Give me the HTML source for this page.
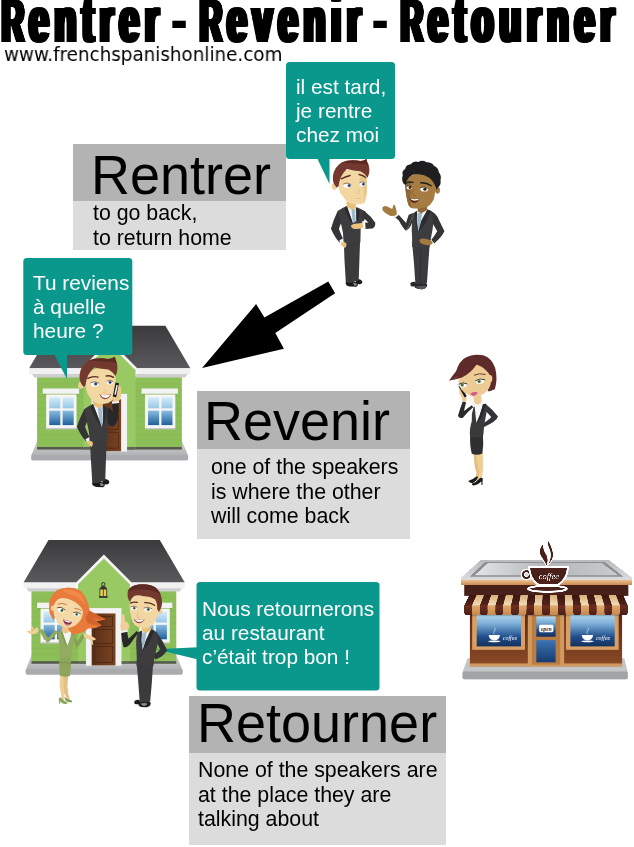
<!DOCTYPE html>
<html lang="fr">
<head>
<meta charset="utf-8">
<title>Rentrer - Revenir - Retourner</title>
<style>
html,body{margin:0;padding:0;background:#fff;}
body{width:634px;height:847px;position:relative;overflow:hidden;font-family:"Liberation Sans",sans-serif;color:#000;}
.abs{position:absolute;}
#title{left:0;top:0;width:634px;height:50px;overflow:visible;}
.tw{top:0;font-weight:bold;white-space:nowrap;}
.cap,.low{transform-origin:0 0;will-change:transform;text-shadow:1.2px 0 0 #000,-1.2px 0 0 #000,2.4px 0 0 #000,-2.4px 0 0 #000,3.6px 0 0 #000,-3.6px 0 0 #000,4.8px 0 0 #000,-4.8px 0 0 #000;}
.cap{left:-0.3px;top:-8.8px;font-size:60.3px;line-height:60.3px;transform:scale(0.505,1);}
.low{top:-12.4px;font-size:64.5px;line-height:64.5px;transform:scale(0.55,1);letter-spacing:10.6px;}
.hy{top:-10.9px;font-weight:bold;font-size:60.6px;line-height:60.6px;will-change:transform;transform:scaleX(0.88);transform-origin:50% 50%;}
#url{left:3.5px;top:44px;font-family:"DejaVu Sans","Liberation Sans",sans-serif;font-size:19.4px;line-height:22px;white-space:nowrap;transform-origin:0 0;transform:scaleX(0.945);will-change:transform;}
.hd{background:#b3b3b3;}
.bd{background:#dcdcdc;}
.big{font-size:54px;line-height:54px;white-space:nowrap;transform:scaleY(1.04);transform-origin:0 45.7px;will-change:transform;}
.txt{font-size:21.33px;line-height:24.5px;white-space:nowrap;will-change:transform;}
.bub{background:#0a968a;border-radius:4px;}
.btx{color:#fff;font-size:20.8px;line-height:23.95px;white-space:nowrap;will-change:transform;}
#art{left:0;top:0;width:634px;height:847px;will-change:transform;}
</style>
</head>
<body>
<svg id="art" class="abs" width="634" height="847" viewBox="0 0 634 847">
<!-- ART-START -->
<defs>
<linearGradient id="roofG" x1="0" y1="0" x2="0" y2="1"><stop offset="0" stop-color="#3b3b3d"/><stop offset="1" stop-color="#5a5a5c"/></linearGradient>
<linearGradient id="paneG" x1="0" y1="0" x2="0" y2="1"><stop offset="0" stop-color="#d6ecf8"/><stop offset="0.45" stop-color="#8fc3e4"/><stop offset="1" stop-color="#1f5f9b"/></linearGradient>
<linearGradient id="baseG" x1="0" y1="0" x2="0" y2="1"><stop offset="0" stop-color="#cfd1d3"/><stop offset="1" stop-color="#a6a8ab"/></linearGradient>
<linearGradient id="doorG" x1="0" y1="0" x2="1" y2="0"><stop offset="0" stop-color="#5a2e16"/><stop offset="1" stop-color="#7a4424"/></linearGradient>
<g id="house">
  <!-- base -->
  <path d="M58 440 L568 440 L590 492 L590 504 Q590 509 585 509 L43 509 Q38 509 38 504 L38 492 Z" fill="url(#baseG)"/>
  <rect x="38" y="490" width="552" height="19" rx="4" fill="#a9abae"/>
  <!-- walls -->
  <rect x="58" y="212" width="510" height="258" fill="#8dbf58"/>
  <rect x="58" y="462" width="510" height="9" fill="#565a50"/>
  <g stroke="#84b450" stroke-width="2">
    <path d="M58 240H568M58 262H568M58 284H568M58 306H568M58 328H568M58 350H568M58 372H568M58 394H568M58 416H568M58 438H568"/>
  </g>
  <!-- centre gable section -->
  <path d="M222 185 L313 95 L405 185 L405 470 L222 470 Z" fill="#99c963"/>
  <rect x="222" y="462" width="183" height="9" fill="#5e6456"/>
  <!-- roof -->
  <path d="M118 35 L510 35 L598 185 L30 185 Z" fill="url(#roofG)"/>
  <!-- gable front over roof -->
  <path d="M313 88 L412 188 L214 188 Z" fill="#99c963"/>
  <path d="M313 86 L416 190 L403 190 L313 100 L223 190 L210 190 Z" fill="#f4f4f4"/>
  <!-- fascia -->
  <path d="M30 185 L214 185 L214 205 L30 205 Z" fill="#f1f1f1"/>
  <path d="M412 185 L598 185 L598 205 L412 205 Z" fill="#f1f1f1"/>
  <path d="M40 205 L222 205 L222 217 L48 217 Z" fill="#cfcfcf"/>
  <path d="M405 205 L588 205 L580 217 L405 217 Z" fill="#cfcfcf"/>
  <!-- lantern -->
  <circle cx="311" cy="191" r="6" fill="none" stroke="#33332c" stroke-width="3.5"/>
  <path d="M304 198 L318 198 L325 209 L297 209 Z" fill="#33332c"/>
  <rect x="299" y="208" width="24" height="26" fill="#e9d050" stroke="#3a3a30" stroke-width="3"/>
  <rect x="309.5" y="208" width="3" height="26" fill="#3a3a30"/>
  <rect x="296" y="233" width="30" height="6" fill="#33332c"/>
  <!-- door -->
  <rect x="250" y="275" width="125" height="203" fill="#f3f3f3"/>
  <rect x="270" y="294" width="84" height="183" fill="url(#doorG)"/>
  <g fill="none" stroke="#4a2411" stroke-width="2.5">
    <rect x="280" y="304" width="64" height="36"/><rect x="280" y="350" width="64" height="50"/><rect x="280" y="410" width="64" height="56"/>
  </g>
  <!-- windows -->
  <g id="win">
    <rect x="78" y="256" width="128" height="19" fill="#f3f3f3"/>
    <rect x="80" y="275" width="124" height="5" fill="#7fae4a"/>
    <rect x="90" y="277" width="107" height="121" fill="#f6f6f6"/>
    <rect x="90" y="395" width="107" height="5" fill="#c8c8c8"/>
    <rect x="101" y="287" width="39" height="98" fill="url(#paneG)"/>
    <rect x="148" y="287" width="39" height="98" fill="url(#paneG)"/>
    <rect x="98" y="326" width="92" height="8" fill="#f6f6f6"/>
  </g>
  <use href="#win" x="348" y="0"/>
</g>
</defs>
<path fill="#000" d="M202.1 367.9 L256.1 304.1 L264.4 317.4 L328.3 281.4 L335.1 293.2 L275.3 333.1 L283.9 348.7 Z"/>
<use href="#house" transform="translate(20.6,315.8) scale(0.28391)"/>
<use href="#house" transform="translate(15,530) scale(0.28391)"/>
<g fill="#0b988c">
<rect x="286" y="62" width="109" height="97" rx="3.5"/>
<path d="M317 158 L329.5 158 L329.5 184 Z"/>
<rect x="23.3" y="258" width="109" height="97" rx="3.5"/>
<path d="M54 354 L67 354 L67 379 Z"/>
<rect x="196.5" y="582" width="183" height="108.5" rx="3.5"/>
<path d="M198 647.3 L198 659.6 L156 649.3 Z"/>
</g>
<g id="man3" transform="translate(70,350) scale(0.1712)">
  <!-- shoes -->
  <path d="M190 756 Q214 748 228 764 Q234 780 216 786 L190 784 Z" fill="#1b1b1d"/>
  <path d="M130 772 Q124 794 154 800 L194 801 Q208 794 200 780 Q184 766 164 768 Z" fill="#1b1b1d"/>
  <path d="M174 776 Q192 778 200 788 Q194 796 180 794 Z" fill="#8a8a8c"/>
  <!-- trousers -->
  <path d="M116 524 L214 530 L210 640 L206 760 Q197 770 186 766 L170 774 Q148 782 130 772 L122 640 Z" fill="#3b3a3c"/>
  <!-- left arm -->
  <path d="M84 344 Q58 394 40 448 Q64 502 92 532 L116 514 Q96 472 88 448 Q102 412 112 382 Z" fill="#343335"/>
  <path d="M90 522 L114 508 L124 524 L100 538 Z" fill="#f4f4f4"/>
  <path d="M100 534 Q122 524 134 540 Q136 556 126 566 Q112 560 102 548 Z" fill="#e9c27c"/>
  <!-- torso -->
  <path d="M82 346 Q104 330 134 316 L172 338 L196 324 Q226 334 244 350 Q250 380 236 420 L218 450 L216 536 L114 530 Q114 476 102 436 Q92 396 82 346 Z" fill="#3d3c3e"/>
  <path d="M136 318 L190 326 L194 410 L186 452 L170 410 Z" fill="#eef3f7"/>
  <path d="M162 336 L184 334 L192 410 L186 450 L172 410 Z" fill="#9fb9cc"/>
  <path d="M134 316 L172 412 L188 460 L152 404 L120 338 Z" fill="#2c2b2d"/>
  <path d="M196 324 L194 410 L188 458 L208 396 L214 344 Z" fill="#2c2b2d"/>
  <!-- right arm raised w/ phone -->
  <path d="M222 336 Q244 346 250 372 L246 308 L284 304 L282 390 Q276 436 252 446 Q232 448 222 430 Q212 380 222 336 Z" fill="#28272a"/>
  <path d="M244 300 L286 296 L286 310 L246 314 Z" fill="#f4f4f4"/>
  <!-- neck -->
  <path d="M130 296 L192 306 L192 330 L166 340 L138 322 Z" fill="#e6bf78"/>
  <!-- ear -->
  <ellipse cx="64" cy="206" rx="16" ry="21" fill="#efcf98"/>
  <!-- face -->
  <path d="M92 140 Q130 100 210 108 Q262 118 266 160 L266 230 Q262 276 244 296 Q210 322 160 312 Q120 294 102 254 Q84 210 92 140 Z" fill="#f3d7a2"/>
  <path d="M198 226 Q214 236 206 250 Q198 254 192 248" fill="none" stroke="#d9b378" stroke-width="4"/>
  <!-- hand + phone -->
  <path d="M262 196 Q288 192 298 220 Q304 260 292 292 Q276 304 250 300 Q244 280 252 262 Q262 230 262 196 Z" fill="#eac98f"/>
  <path d="M266 190 L286 194 L270 276 L250 272 Z" fill="#1a1a1c"/>
  <path d="M271 204 L280 206 L268 262 L259 260 Z" fill="#f2f2f2"/>
  <!-- mouth -->
  <path d="M172 258 Q204 270 240 256 Q232 286 204 288 Q182 284 172 258 Z" fill="#8a4a4a"/>
  <path d="M176 260 Q204 270 236 258 Q228 278 206 280 Q186 276 176 260 Z" fill="#fff"/>
  <!-- eyes -->
  <ellipse cx="144" cy="198" rx="24" ry="15" fill="#fff"/>
  <circle cx="150" cy="198" r="10" fill="#4f639a"/>
  <circle cx="151" cy="198" r="4.5" fill="#1d2238"/>
  <ellipse cx="232" cy="188" rx="18" ry="13" fill="#fff"/>
  <circle cx="234" cy="189" r="9" fill="#4f639a"/>
  <circle cx="235" cy="189" r="4" fill="#1d2238"/>
  <path d="M120 192 Q142 176 170 194" fill="none" stroke="#5b2d24" stroke-width="4"/>
  <path d="M214 182 Q232 170 252 184" fill="none" stroke="#5b2d24" stroke-width="4"/>
  <path d="M104 166 Q132 150 164 158" fill="none" stroke="#5d2e26" stroke-width="8" stroke-linecap="round"/>
  <path d="M212 152 Q234 146 254 160" fill="none" stroke="#5d2e26" stroke-width="8" stroke-linecap="round"/>
  <!-- hair -->
  <path d="M78 214 Q52 186 56 144 Q62 92 108 62 Q158 40 222 52 Q246 52 262 40 Q266 60 274 78 Q284 112 266 152 Q252 128 224 114 Q186 112 142 102 Q120 122 106 148 Q92 178 90 208 Z" fill="#73392f"/>
  <path d="M108 62 Q158 40 222 52 Q246 52 262 40 Q266 60 274 78 Q240 66 200 68 Q150 66 108 62 Z" fill="#5c2a23"/>
</g>
<g id="woman2" transform="translate(22,580) scale(0.15349)">
  <!-- legs -->
  <path d="M250 610 Q240 680 252 730 L258 780 L274 780 Q276 720 282 680 L290 610 Z" fill="#efcf98"/>
  <path d="M270 610 Q268 690 276 740 L300 790 L312 782 Q296 730 296 690 L302 610 Z" fill="#e6c080"/>
  <!-- shoes -->
  <path d="M240 770 Q250 760 262 774 Q286 798 300 800 Q292 812 270 806 Q256 800 250 790 L248 806 L242 806 Z" fill="#8ea65c"/>
  <path d="M276 760 Q290 776 318 784 Q332 788 326 796 Q306 800 290 790 L280 780 Z" fill="#7f9650"/>
  <!-- skirt -->
  <path d="M244 500 L318 500 Q324 560 312 626 Q280 636 246 622 Q238 560 244 500 Z" fill="#8da65b"/>
  <path d="M246 540 Q280 530 318 544" stroke="#748c46" stroke-width="5" fill="none"/>
  <!-- left arm -->
  <path d="M236 340 Q200 380 166 412 Q140 380 112 330 L132 318 Q152 350 170 374 Q196 350 220 326 Z" fill="#93ab61"/>
  <path d="M30 336 Q50 326 72 332 Q84 312 100 308 Q112 316 108 334 Q100 352 76 354 Q48 356 30 336 Z" fill="#f0cf9a"/>
  <path d="M60 300 Q70 310 74 330" stroke="#f0cf9a" stroke-width="8" fill="none" stroke-linecap="round"/>
  <!-- right arm -->
  <path d="M318 352 Q340 400 356 446 Q384 410 408 366 L392 352 Q372 384 358 404 Q350 380 340 350 Z" fill="#86a056"/>
  <path d="M400 352 Q420 346 440 362 Q470 372 482 384 Q476 396 460 392 L464 420 L452 422 L446 392 Q420 384 404 370 Z" fill="#efcf98"/>
  <!-- torso -->
  <path d="M236 338 Q250 328 268 326 L300 420 L322 350 Q336 356 342 370 Q330 440 322 510 L242 510 Q250 440 240 400 Q232 370 236 338 Z" fill="#93ab61"/>
  <path d="M256 340 L300 330 L306 380 L296 430 L272 390 Z" fill="#f7f7f5"/>
  <path d="M250 336 L262 332 L298 436 L282 420 Z" fill="#7d9550"/>
  <!-- neck -->
  <path d="M262 296 L310 290 L312 336 L284 350 L258 336 Z" fill="#e9c58a"/>
  <!-- hair back -->
  <path d="M178 180 Q166 120 226 66 Q310 30 384 72 Q424 112 442 200 Q490 230 546 256 Q500 270 470 268 Q500 290 520 296 Q470 320 430 316 Q400 350 336 354 Q312 344 300 312 L204 210 Z" fill="#e87a3c"/>
  <path d="M440 200 Q490 230 546 256 Q500 262 460 250 Q500 280 520 296 Q470 300 430 280 Q400 250 440 200 Z" fill="#d4642c"/>
  <path d="M176 176 Q176 226 206 262 L214 244 Q198 204 202 164 Z" fill="#e87a3c"/>
  <!-- ear -->
  <ellipse cx="198" cy="184" rx="11" ry="17" fill="#efcf98"/>
  <!-- face -->
  <path d="M200 160 Q230 116 280 108 Q340 130 392 176 Q404 214 386 254 Q358 298 316 310 Q270 314 240 288 Q206 246 200 160 Z" fill="#f4d8a6"/>
  <!-- fringe -->
  <path d="M196 160 Q200 100 260 70 Q330 50 390 100 Q420 150 400 200 Q370 150 320 130 Q280 110 240 120 Q214 136 206 170 Z" fill="#e87a3c"/>
  <path d="M260 70 Q330 50 390 100 Q410 130 408 160 Q370 110 320 96 Q290 88 260 70 Z" fill="#f08a48"/>
  <!-- eyes -->
  <ellipse cx="256" cy="196" rx="22" ry="15" fill="#fff" transform="rotate(20 256 196)"/>
  <circle cx="260" cy="198" r="10" fill="#5f876a"/>
  <circle cx="261" cy="198" r="4.5" fill="#1c2a16"/>
  <ellipse cx="356" cy="222" rx="20" ry="13" fill="#fff" transform="rotate(15 356 222)"/>
  <circle cx="356" cy="224" r="9" fill="#5f876a"/>
  <circle cx="357" cy="224" r="4" fill="#1c2a16"/>
  <path d="M230 180 Q256 170 282 196" fill="none" stroke="#3a2418" stroke-width="5"/>
  <path d="M334 212 Q358 202 382 220" fill="none" stroke="#3a2418" stroke-width="5"/>
  <path d="M236 156 Q262 146 290 160" fill="none" stroke="#c4602c" stroke-width="5" stroke-linecap="round"/>
  <path d="M344 186 Q366 184 386 198" fill="none" stroke="#c4602c" stroke-width="5" stroke-linecap="round"/>
  <!-- mouth -->
  <path d="M268 258 Q296 262 326 274 Q316 298 292 296 Q272 286 268 258 Z" fill="#8a2a4a"/>
  <path d="M272 260 Q296 264 322 274 Q310 280 294 276 Q280 272 272 260 Z" fill="#fff"/>
  <path d="M280 284 Q296 290 310 288 Q302 298 290 296 Z" fill="#e07a9a"/>
</g>
<g id="man4" transform="translate(110,575) scale(0.15939)">
  <!-- shoes -->
  <path d="M152 796 Q158 780 184 784 L196 806 Q174 816 154 808 Z" fill="#1b1b1d"/>
  <path d="M180 806 Q186 788 220 790 Q250 788 256 804 Q254 824 228 830 Q194 832 180 820 Z" fill="#1b1b1d"/>
  <path d="M190 808 Q210 800 236 806 Q230 822 208 822 Z" fill="#8a8a8c"/>
  <!-- trousers -->
  <path d="M168 562 L270 562 L262 680 L252 794 Q220 802 186 794 L178 680 Z" fill="#3b3a3c"/>
  <!-- right arm behind back -->
  <path d="M296 366 Q330 410 358 470 Q340 510 284 530 L270 500 Q300 486 316 468 Q296 430 280 400 Z" fill="#343335"/>
  <!-- torso -->
  <path d="M172 364 Q186 352 204 348 L214 372 L260 340 Q284 350 300 366 Q306 420 290 470 Q276 520 272 574 L166 572 Q170 520 166 470 Q160 410 172 364 Z" fill="#3d3c3e"/>
  <path d="M200 350 L258 340 L226 410 L204 470 L196 410 Z" fill="#eef3f7"/>
  <path d="M204 360 L228 358 L220 420 L204 466 L198 420 Z" fill="#9fb9cc"/>
  <path d="M258 340 L278 350 L250 420 L204 478 L226 410 Z" fill="#2c2b2d"/>
  <path d="M200 350 L186 358 L192 430 L204 478 L196 410 Z" fill="#2c2b2d"/>
  <!-- left arm raised -->
  <path d="M178 362 Q150 400 120 440 Q100 460 84 450 Q72 410 70 360 L108 352 Q110 380 116 400 Q140 380 168 352 Z" fill="#28272a"/>
  <path d="M66 350 L110 342 L112 356 L70 364 Z" fill="#f4f4f4"/>
  <path d="M70 348 Q60 320 68 296 L76 250 Q84 240 90 252 L94 290 Q116 296 120 320 Q118 340 108 346 Z" fill="#f0cf9a"/>
  <!-- neck -->
  <path d="M196 318 L254 322 L256 346 L226 366 L200 350 Z" fill="#e6bf78"/>
  <!-- ear -->
  <ellipse cx="312" cy="226" rx="15" ry="20" fill="#efcf98"/>
  <!-- face -->
  <path d="M124 150 Q160 118 230 122 Q290 136 300 180 Q304 240 288 286 Q262 330 214 336 Q166 332 144 300 Q118 240 124 150 Z" fill="#f3d7a2"/>
  <path d="M178 232 Q166 256 174 268 Q184 272 192 266" fill="none" stroke="#d9b378" stroke-width="4"/>
  <!-- mouth -->
  <path d="M148 274 Q182 288 218 276 Q208 302 180 302 Q158 298 148 274 Z" fill="#8a4a4a"/>
  <path d="M152 276 Q182 288 214 278 Q206 294 181 295 Q162 292 152 276 Z" fill="#fff"/>
  <!-- eyes -->
  <ellipse cx="150" cy="207" rx="19" ry="14" fill="#fff"/>
  <circle cx="152" cy="208" r="9" fill="#5f876a"/>
  <circle cx="153" cy="208" r="4" fill="#1c2a16"/>
  <ellipse cx="238" cy="215" rx="24" ry="15" fill="#fff"/>
  <circle cx="240" cy="216" r="10" fill="#5f876a"/>
  <circle cx="241" cy="216" r="4.5" fill="#1c2a16"/>
  <path d="M130 200 Q150 188 170 202" fill="none" stroke="#5b2d24" stroke-width="4"/>
  <path d="M212 208 Q238 194 264 212" fill="none" stroke="#5b2d24" stroke-width="4"/>
  <path d="M128 176 Q150 166 172 172" fill="none" stroke="#5d2e26" stroke-width="8" stroke-linecap="round"/>
  <path d="M218 174 Q252 170 280 190" fill="none" stroke="#5d2e26" stroke-width="8" stroke-linecap="round"/>
  <!-- hair -->
  <path d="M126 170 Q104 140 112 100 Q130 66 180 60 Q240 52 286 78 Q322 110 326 160 Q330 200 306 232 L296 214 Q298 176 282 152 Q250 132 210 134 Q176 122 150 132 Q134 146 126 170 Z" fill="#73392f"/>
  <path d="M112 100 Q130 66 180 60 Q240 52 286 78 Q310 98 320 126 Q280 96 230 92 Q170 88 112 100 Z" fill="#5c2a23"/>
</g>
<g id="man1" transform="translate(325,155) scale(0.16529)">
  <!-- shoes -->
  <path d="M186 752 Q210 745 224 762 Q230 778 212 782 L186 780 Z" fill="#1b1b1d"/>
  <path d="M126 768 Q120 790 150 796 L190 797 Q204 790 196 776 Q180 762 160 764 Z" fill="#1b1b1d"/>
  <path d="M170 772 Q188 774 196 784 Q190 792 176 790 Z" fill="#8a8a8c"/>
  <!-- trousers -->
  <path d="M114 520 L212 526 L208 640 L204 756 Q195 766 184 762 L168 770 Q146 778 126 768 L118 640 Z" fill="#3b3a3c"/>
  <!-- left arm (behind torso) -->
  <path d="M78 336 Q52 390 36 446 Q60 500 88 530 L112 512 Q92 470 84 446 Q98 410 108 380 Z" fill="#343335"/>
  <path d="M86 518 L110 504 L120 520 L96 534 Z" fill="#f4f4f4"/>
  <path d="M96 530 Q118 520 130 536 Q132 552 122 562 Q108 556 98 544 Z" fill="#e9c27c"/>
  <!-- torso jacket -->
  <path d="M78 338 Q100 322 130 308 L168 330 L192 316 Q222 326 244 342 Q252 360 236 400 L216 440 L214 530 L112 524 Q112 470 100 430 Q90 390 78 338 Z" fill="#3d3c3e"/>
  <!-- shirt + tie -->
  <path d="M134 310 L186 318 L190 404 L168 412 Z" fill="#eef3f7"/>
  <path d="M160 328 L180 326 L186 402 L168 408 Z" fill="#9fb9cc"/>
  <path d="M130 308 L168 412 L150 400 L118 330 Z" fill="#2c2b2d"/>
  <path d="M192 316 L190 404 L168 412 L204 390 L210 336 Z" fill="#2c2b2d"/>
  <!-- right arm across -->
  <path d="M236 338 Q280 372 304 410 Q306 436 288 444 L240 448 L236 410 L262 408 Q244 388 222 372 Z" fill="#343335"/>
  <path d="M224 402 L242 398 L246 446 L228 448 Z" fill="#f6f6f6"/>
  <path d="M156 428 Q170 412 200 414 L228 410 L230 440 Q200 450 172 446 Q160 442 156 428 Z" fill="#e9c27c"/>
  <!-- neck -->
  <path d="M128 280 L186 292 L186 322 L160 330 L134 314 Z" fill="#e6bf78"/>
  <!-- ear -->
  <ellipse cx="56" cy="190" rx="16" ry="20" fill="#efcf98"/>
  <!-- face -->
  <path d="M82 120 Q120 80 200 90 Q250 100 254 140 L254 230 Q250 272 238 292 Q200 304 150 294 Q118 270 92 230 Q76 190 82 120 Z" fill="#f3d7a2"/>
  <path d="M206 150 Q222 160 232 200 Q240 230 232 282 Q246 262 250 220 L252 140 Q250 120 240 110 Q222 120 206 150 Z" fill="#e6c58c"/>
  <path d="M196 200 Q214 214 204 232 Q196 236 190 230" fill="none" stroke="#d9b378" stroke-width="4"/>
  <path d="M182 262 Q200 258 214 264" fill="none" stroke="#dcb680" stroke-width="4" stroke-linecap="round"/>
  <!-- eyes -->
  <ellipse cx="134" cy="184" rx="23" ry="15" fill="#fff"/>
  <circle cx="146" cy="185" r="10" fill="#5a6c98"/>
  <circle cx="147" cy="185" r="4.5" fill="#1d2238"/>
  <ellipse cx="226" cy="176" rx="18" ry="14" fill="#fff"/>
  <circle cx="232" cy="177" r="9" fill="#5a6c98"/>
  <circle cx="233" cy="177" r="4" fill="#1d2238"/>
  <path d="M110 176 Q132 162 158 178" fill="none" stroke="#5b2d24" stroke-width="4"/>
  <path d="M208 168 Q226 156 244 170" fill="none" stroke="#5b2d24" stroke-width="4"/>
  <!-- brows -->
  <path d="M98 144 Q122 132 152 124" fill="none" stroke="#5d2e26" stroke-width="8" stroke-linecap="round"/>
  <path d="M206 118 Q228 122 246 136" fill="none" stroke="#5d2e26" stroke-width="8" stroke-linecap="round"/>
  <!-- hair -->
  <path d="M70 196 Q44 170 48 128 Q54 76 100 46 Q150 24 214 36 Q236 36 250 24 Q254 44 264 62 Q276 96 258 138 Q244 112 214 98 Q176 96 132 84 Q112 104 98 130 Q84 160 82 190 Z" fill="#73392f"/>
  <path d="M100 46 Q150 24 214 36 Q236 36 250 24 Q254 44 264 62 Q230 50 190 52 Q140 50 100 46 Z" fill="#5c2a23"/>
</g>
<g id="man2" transform="translate(378,155) scale(0.16529)">
  <!-- shoes -->
  <path d="M196 778 Q200 764 226 768 L238 790 Q216 800 198 792 Z" fill="#2a2a2c"/>
  <path d="M222 786 Q228 770 262 772 Q292 770 298 786 Q296 806 270 812 Q236 814 222 802 Z" fill="#2a2a2c"/>
  <path d="M228 796 Q258 790 294 792 Q290 808 268 812 Q240 812 228 796 Z" fill="#55565a"/>
  <!-- trousers -->
  <path d="M208 548 L312 548 L304 660 L296 776 Q262 784 226 776 L218 660 Z" fill="#3b3a3c"/>
  <path d="M258 570 L256 776" stroke="#2f2e30" stroke-width="4" fill="none"/>
  <!-- right arm (viewer right) behind torso -->
  <path d="M318 338 Q352 352 368 392 Q392 440 402 462 Q384 500 340 536 L322 514 Q346 486 358 462 Q340 430 322 400 Z" fill="#343335"/>
  <path d="M322 512 L340 534 L330 544 L314 524 Z" fill="#f4f4f4"/>
  <!-- torso -->
  <path d="M214 352 Q226 342 240 338 L246 360 L300 330 Q316 334 326 342 Q340 400 330 450 Q320 500 312 556 L206 556 Q208 500 204 450 Q202 400 214 352 Z" fill="#3d3c3e"/>
  <!-- shirt & tie -->
  <path d="M236 340 L300 330 L262 400 L244 462 L234 400 Z" fill="#eef3f7"/>
  <path d="M240 350 L268 348 L258 410 L244 458 L236 410 Z" fill="#9fb9cc"/>
  <path d="M300 330 L318 340 L290 410 L244 466 L262 400 Z" fill="#2c2b2d"/>
  <path d="M236 340 L222 348 L230 420 L244 466 L234 400 Z" fill="#2c2b2d"/>
  <!-- hand on hip -->
  <path d="M250 512 Q270 500 300 510 Q324 516 332 528 Q326 546 300 546 Q270 544 254 530 Z" fill="#a37a40"/>
  <!-- left arm (viewer left) raised -->
  <path d="M216 350 Q196 400 186 430 Q178 452 166 456 Q150 440 126 396 L98 372 L120 356 Q150 390 170 412 Q176 390 186 362 Z" fill="#343335"/>
  <path d="M168 458 Q190 452 206 410 L214 352 Q196 400 186 430 Q178 452 166 456 Z" fill="#343335"/>
  <path d="M96 368 L120 352 L128 362 L104 380 Z" fill="#f4f4f4"/>
  <path d="M26 318 Q36 302 56 312 L86 326 Q92 310 94 298 Q106 304 108 322 Q116 344 112 362 Q92 374 70 366 Q40 352 28 334 Z" fill="#a37a40"/>
  <!-- neck -->
  <path d="M240 312 L296 304 L298 332 L262 352 L240 340 Z" fill="#8d6836"/>
  <!-- ear -->
  <ellipse cx="360" cy="214" rx="15" ry="20" fill="#a37a40"/>
  <!-- face -->
  <path d="M164 150 Q200 110 280 116 Q340 130 346 180 Q348 240 336 270 Q318 306 290 316 Q240 328 200 320 Q184 310 178 280 Q162 210 164 150 Z" fill="#a67c42"/>
  <path d="M164 150 Q162 210 178 280 Q184 310 200 320 Q196 280 196 240 Q206 200 200 160 Q184 140 164 150 Z" fill="#8d6836"/>
  <path d="M214 200 Q204 230 212 244 Q222 250 232 244" fill="none" stroke="#8a5b22" stroke-width="4"/>
  <!-- mouth -->
  <path d="M192 262 Q220 270 250 262 Q244 290 216 290 Q198 286 192 262 Z" fill="#5a2414"/>
  <path d="M194 263 Q220 271 248 263 Q244 276 220 277 Q202 275 194 263 Z" fill="#fff"/>
  <!-- eyes -->
  <ellipse cx="190" cy="197" rx="17" ry="12" fill="#fff"/>
  <circle cx="194" cy="197" r="9" fill="#3a2312"/>
  <ellipse cx="280" cy="207" rx="24" ry="14" fill="#fff"/>
  <circle cx="284" cy="207" r="10" fill="#3a2312"/>
  <path d="M172 190 Q190 180 208 192" fill="none" stroke="#20160c" stroke-width="4"/>
  <path d="M256 198 Q280 186 306 204" fill="none" stroke="#20160c" stroke-width="4"/>
  <path d="M168 170 Q190 160 212 166" fill="none" stroke="#1b1b1d" stroke-width="8" stroke-linecap="round"/>
  <path d="M258 168 Q294 166 322 186" fill="none" stroke="#1b1b1d" stroke-width="8" stroke-linecap="round"/>
  <!-- hair -->
  <path d="M156 176 Q140 150 150 122 Q142 96 164 84 Q170 58 198 56 Q214 34 244 42 Q268 28 294 44 Q324 42 340 66 Q366 76 368 104 Q386 124 378 152 Q384 180 364 196 L352 210 Q344 176 330 158 Q310 132 280 122 Q240 112 210 120 Q188 130 176 152 Q168 168 168 182 Z" fill="#1e1e21"/>
</g>
<g id="woman1" transform="translate(430,345) scale(0.17709)">
  <!-- legs -->
  <path d="M246 610 Q248 680 262 720 L256 770 L272 772 Q282 730 286 690 L290 610 Z" fill="#e6c080"/>
  <path d="M262 610 Q268 680 280 720 L278 770 L292 772 Q298 720 300 690 L298 610 Z" fill="#efcf98"/>
  <!-- shoes -->
  <path d="M216 768 Q240 760 262 742 L272 744 Q262 770 240 780 Q222 780 216 768 Z" fill="#1b1b1d"/>
  <path d="M236 784 Q262 776 284 750 L298 752 L296 790 L290 790 L290 770 Q270 792 246 794 Q236 792 236 784 Z" fill="#1b1b1d"/>
  <!-- skirt -->
  <path d="M228 500 L298 496 Q304 560 296 612 Q266 626 236 614 Q222 560 228 500 Z" fill="#2f2e31"/>
  <!-- left arm w/ phone (viewer's left) -->
  <path d="M244 352 Q210 380 184 412 Q164 416 158 400 Q172 350 186 316 L204 324 Q196 350 192 372 Q214 356 236 340 Z" fill="#2a292c"/>
  <path d="M168 240 Q160 270 178 296 L186 322 L206 318 Q208 296 200 280 Q186 262 168 240 Z" fill="#ecca92"/>
  <path d="M160 232 L172 228 L208 290 L196 296 Z" fill="#1a1a1c"/>
  <!-- right arm on hip -->
  <path d="M316 334 Q350 360 384 404 Q378 430 300 466 L290 448 Q330 424 346 406 Q326 384 306 364 Z" fill="#343335"/>
  <path d="M258 446 Q280 440 298 450 L300 466 Q280 472 262 464 Z" fill="#ecca92"/>
  <!-- torso jacket -->
  <path d="M246 350 Q270 336 316 332 Q326 360 314 410 Q304 450 302 500 Q300 520 296 524 L226 520 Q222 470 236 430 Q232 390 246 350 Z" fill="#3a393c"/>
  <path d="M252 346 L300 334 L280 400 L262 440 Z" fill="#f7f7f7"/>
  <path d="M300 334 L316 332 L290 410 L262 444 L280 400 Z" fill="#262528"/>
  <!-- neck -->
  <path d="M206 292 L290 280 L298 336 L270 352 L240 344 Z" fill="#f6f4ee"/>
  <path d="M246 290 L288 284 L290 326 L268 336 L250 328 Z" fill="#eccb94"/>
  <!-- hair back -->
  <path d="M150 190 Q140 120 190 78 Q240 46 300 58 Q350 74 368 130 Q384 190 366 250 L330 262 Q300 200 250 160 Z" fill="#5e2b2a"/>
  <!-- face -->
  <path d="M160 200 Q190 150 260 108 Q320 130 344 180 Q350 230 320 262 Q290 290 246 292 Q200 280 176 250 Q162 230 160 200 Z" fill="#eccb94"/>
  <!-- ear -->
  <!-- fringe -->
  <path d="M108 200 Q130 170 146 150 Q170 90 240 64 Q300 50 340 90 Q360 120 364 160 Q340 130 300 118 Q270 104 262 112 Q230 160 180 184 Q150 196 108 200 Z" fill="#5e2b2a"/>
  <path d="M108 200 Q140 186 160 172 L150 190 Z" fill="#7a3c38"/>
  <path d="M340 130 Q368 170 364 220 Q358 250 340 262 Q354 230 352 196 Z" fill="#5e2b2a"/>
  <ellipse cx="340" cy="190" rx="12" ry="20" fill="#eccb94"/>
  <!-- eyes -->
  <ellipse cx="186" cy="226" rx="22" ry="14" fill="#fff" transform="rotate(-8 186 226)"/>
  <circle cx="182" cy="226" r="10" fill="#6a9a5a"/>
  <circle cx="181" cy="226" r="4.5" fill="#1c2a16"/>
  <ellipse cx="282" cy="204" rx="24" ry="15" fill="#fff" transform="rotate(-12 282 204)"/>
  <circle cx="278" cy="206" r="10" fill="#6a9a5a"/>
  <circle cx="277" cy="206" r="4.5" fill="#1c2a16"/>
  <path d="M162 222 Q186 206 210 220" fill="none" stroke="#2a1a14" stroke-width="5"/>
  <path d="M256 202 Q282 184 310 196" fill="none" stroke="#2a1a14" stroke-width="5"/>
  <path d="M250 170 Q280 156 312 166" fill="none" stroke="#5e2b2a" stroke-width="5" stroke-linecap="round"/>
  <!-- lips -->
  <path d="M228 274 Q248 262 270 268 Q262 286 244 288 Q232 284 228 274 Z" fill="#d4568a"/>
</g>
<g id="cafe" transform="translate(454,530) scale(0.28391)" font-family="'Liberation Serif',serif" font-style="italic" font-weight="bold">
  <defs>
    <linearGradient id="cGlass" x1="0" y1="0" x2="0" y2="1"><stop offset="0" stop-color="#b4d8f0"/><stop offset="0.3" stop-color="#79abd6"/><stop offset="0.7" stop-color="#1f4f8c"/><stop offset="1" stop-color="#14305c"/></linearGradient>
    <linearGradient id="cGlass2" x1="0" y1="0" x2="0" y2="1"><stop offset="0" stop-color="#3a74b4"/><stop offset="1" stop-color="#173a6e"/></linearGradient>
    <linearGradient id="cWall" x1="0" y1="0" x2="0" y2="1"><stop offset="0" stop-color="#5a2414"/><stop offset="1" stop-color="#8a4a26"/></linearGradient>
    <linearGradient id="cRoof" x1="0" y1="0" x2="1" y2="0"><stop offset="0" stop-color="#e3e4e5"/><stop offset="0.5" stop-color="#b4b6b9"/><stop offset="1" stop-color="#c9cbcd"/></linearGradient>
    <linearGradient id="cAwnD" x1="0" y1="0" x2="0" y2="1"><stop offset="0" stop-color="#3b1610"/><stop offset="1" stop-color="#57231a"/></linearGradient>
    <linearGradient id="cValD" x1="0" y1="0" x2="0" y2="1"><stop offset="0" stop-color="#6e2f20"/><stop offset="1" stop-color="#4a1f17"/></linearGradient>
    <linearGradient id="cValL" x1="0" y1="0" x2="0" y2="1"><stop offset="0" stop-color="#e0a96c"/><stop offset="1" stop-color="#c8874b"/></linearGradient>
    <linearGradient id="cAwnL" x1="0" y1="0" x2="0" y2="1"><stop offset="0" stop-color="#d9b07a"/><stop offset="1" stop-color="#f3dfbc"/></linearGradient>
    <linearGradient id="cRim" x1="0" y1="0" x2="0" y2="1"><stop offset="0" stop-color="#b9bbbd"/><stop offset="1" stop-color="#dcdddf"/></linearGradient>
    <linearGradient id="cCor" x1="0" y1="0" x2="0" y2="1"><stop offset="0" stop-color="#efc08c"/><stop offset="1" stop-color="#c98a55"/></linearGradient>
  </defs>
  <!-- base -->
  <path d="M48 452 L600 452 L612 500 L612 518 Q612 526 604 526 L38 526 Q30 526 30 518 L30 500 Z" fill="#c3c5c7"/>
  <rect x="30" y="498" width="582" height="28" rx="6" fill="#a2a4a7"/>
  <!-- walls -->
  <rect x="56" y="280" width="536" height="200" fill="url(#cWall)"/>
  <rect x="56" y="470" width="536" height="10" fill="#d39a5e"/>
  <!-- left window -->
  <rect x="64" y="290" width="186" height="132" fill="#d9a066"/>
  <rect x="80" y="298" width="156" height="112" fill="url(#cGlass)"/>
  <!-- right window -->
  <rect x="394" y="290" width="186" height="132" fill="#d9a066"/>
  <rect x="410" y="298" width="156" height="112" fill="url(#cGlass)"/>
  <!-- door -->
  <rect x="260" y="290" width="128" height="190" fill="#d39a5e"/>
  <rect x="274" y="296" width="100" height="178" fill="#b97c44"/>
  <rect x="290" y="304" width="68" height="72" fill="url(#cGlass)"/>
  <rect x="290" y="388" width="68" height="78" fill="url(#cGlass2)"/>
  <rect x="300" y="334" width="50" height="26" rx="5" fill="#fff"/>
  <text x="325" y="354" font-size="19" text-anchor="middle" fill="#3a2a22">open</text>
  <!-- window cups -->
  <g fill="#fff">
    <path d="M122 370 L162 370 Q160 386 148 388 L136 388 Q124 386 122 370 Z"/>
    <ellipse cx="142" cy="392" rx="22" ry="3.2"/>
    <text x="172" y="386" font-size="21" font-weight="normal">coffee</text>
    <path d="M450 370 L490 370 Q488 386 476 388 L464 388 Q452 386 450 370 Z"/>
    <ellipse cx="470" cy="392" rx="22" ry="3.2"/>
    <text x="500" y="386" font-size="21" font-weight="normal">coffee</text>
  </g>
  <g fill="none" stroke="#fff" stroke-width="2"><path d="M142 366 Q137 360 143 355 Q148 350 143 345"/><path d="M470 366 Q465 360 471 355 Q476 350 471 345"/></g>
  <!-- fascia band -->
  <rect x="36" y="192" width="578" height="40" fill="#48201a"/>
  <!-- awning -->
  <g>
    <path d="M58 290 L590 290 L590 304 L58 304 Z" fill="#1c2a40" opacity="0.25"/>
    <path d="M54.0 229 L79.8 229 L63.4 266 L36.0 266 Z" fill="url(#cAwnD)"/>
    <path d="M79.8 229 L105.6 229 L90.9 266 L63.4 266 Z" fill="url(#cAwnL)"/>
    <path d="M105.6 229 L131.4 229 L118.3 266 L90.9 266 Z" fill="url(#cAwnD)"/>
    <path d="M131.4 229 L157.2 229 L145.7 266 L118.3 266 Z" fill="url(#cAwnL)"/>
    <path d="M157.2 229 L183.0 229 L173.1 266 L145.7 266 Z" fill="url(#cAwnD)"/>
    <path d="M183.0 229 L208.9 229 L200.6 266 L173.1 266 Z" fill="url(#cAwnL)"/>
    <path d="M208.9 229 L234.7 229 L228.0 266 L200.6 266 Z" fill="url(#cAwnD)"/>
    <path d="M234.7 229 L260.5 229 L255.4 266 L228.0 266 Z" fill="url(#cAwnL)"/>
    <path d="M260.5 229 L286.3 229 L282.9 266 L255.4 266 Z" fill="url(#cAwnD)"/>
    <path d="M286.3 229 L312.1 229 L310.3 266 L282.9 266 Z" fill="url(#cAwnL)"/>
    <path d="M312.1 229 L337.9 229 L337.7 266 L310.3 266 Z" fill="url(#cAwnD)"/>
    <path d="M337.9 229 L363.7 229 L365.1 266 L337.7 266 Z" fill="url(#cAwnL)"/>
    <path d="M363.7 229 L389.5 229 L392.6 266 L365.1 266 Z" fill="url(#cAwnD)"/>
    <path d="M389.5 229 L415.3 229 L420.0 266 L392.6 266 Z" fill="url(#cAwnL)"/>
    <path d="M415.3 229 L441.1 229 L447.4 266 L420.0 266 Z" fill="url(#cAwnD)"/>
    <path d="M441.1 229 L467.0 229 L474.9 266 L447.4 266 Z" fill="url(#cAwnL)"/>
    <path d="M467.0 229 L492.8 229 L502.3 266 L474.9 266 Z" fill="url(#cAwnD)"/>
    <path d="M492.8 229 L518.6 229 L529.7 266 L502.3 266 Z" fill="url(#cAwnL)"/>
    <path d="M518.6 229 L544.4 229 L557.1 266 L529.7 266 Z" fill="url(#cAwnD)"/>
    <path d="M544.4 229 L570.2 229 L584.6 266 L557.1 266 Z" fill="url(#cAwnL)"/>
    <path d="M570.2 229 L596.0 229 L612.0 266 L584.6 266 Z" fill="url(#cAwnD)"/>
    <path d="M36.0 265.5 L63.4 265.5 L63.4 289 Q63.4 301 49.7 301 Q36.0 301 36.0 289 Z" fill="url(#cValD)"/>
    <path d="M63.4 265.5 L90.9 265.5 L90.9 289 Q90.9 301 77.1 301 Q63.4 301 63.4 289 Z" fill="url(#cValL)"/>
    <path d="M90.9 265.5 L118.3 265.5 L118.3 289 Q118.3 301 104.6 301 Q90.9 301 90.9 289 Z" fill="url(#cValD)"/>
    <path d="M118.3 265.5 L145.7 265.5 L145.7 289 Q145.7 301 132.0 301 Q118.3 301 118.3 289 Z" fill="url(#cValL)"/>
    <path d="M145.7 265.5 L173.1 265.5 L173.1 289 Q173.1 301 159.4 301 Q145.7 301 145.7 289 Z" fill="url(#cValD)"/>
    <path d="M173.1 265.5 L200.6 265.5 L200.6 289 Q200.6 301 186.9 301 Q173.1 301 173.1 289 Z" fill="url(#cValL)"/>
    <path d="M200.6 265.5 L228.0 265.5 L228.0 289 Q228.0 301 214.3 301 Q200.6 301 200.6 289 Z" fill="url(#cValD)"/>
    <path d="M228.0 265.5 L255.4 265.5 L255.4 289 Q255.4 301 241.7 301 Q228.0 301 228.0 289 Z" fill="url(#cValL)"/>
    <path d="M255.4 265.5 L282.9 265.5 L282.9 289 Q282.9 301 269.1 301 Q255.4 301 255.4 289 Z" fill="url(#cValD)"/>
    <path d="M282.9 265.5 L310.3 265.5 L310.3 289 Q310.3 301 296.6 301 Q282.9 301 282.9 289 Z" fill="url(#cValL)"/>
    <path d="M310.3 265.5 L337.7 265.5 L337.7 289 Q337.7 301 324.0 301 Q310.3 301 310.3 289 Z" fill="url(#cValD)"/>
    <path d="M337.7 265.5 L365.1 265.5 L365.1 289 Q365.1 301 351.4 301 Q337.7 301 337.7 289 Z" fill="url(#cValL)"/>
    <path d="M365.1 265.5 L392.6 265.5 L392.6 289 Q392.6 301 378.9 301 Q365.1 301 365.1 289 Z" fill="url(#cValD)"/>
    <path d="M392.6 265.5 L420.0 265.5 L420.0 289 Q420.0 301 406.3 301 Q392.6 301 392.6 289 Z" fill="url(#cValL)"/>
    <path d="M420.0 265.5 L447.4 265.5 L447.4 289 Q447.4 301 433.7 301 Q420.0 301 420.0 289 Z" fill="url(#cValD)"/>
    <path d="M447.4 265.5 L474.9 265.5 L474.9 289 Q474.9 301 461.1 301 Q447.4 301 447.4 289 Z" fill="url(#cValL)"/>
    <path d="M474.9 265.5 L502.3 265.5 L502.3 289 Q502.3 301 488.6 301 Q474.9 301 474.9 289 Z" fill="url(#cValD)"/>
    <path d="M502.3 265.5 L529.7 265.5 L529.7 289 Q529.7 301 516.0 301 Q502.3 301 502.3 289 Z" fill="url(#cValL)"/>
    <path d="M529.7 265.5 L557.1 265.5 L557.1 289 Q557.1 301 543.4 301 Q529.7 301 529.7 289 Z" fill="url(#cValD)"/>
    <path d="M557.1 265.5 L584.6 265.5 L584.6 289 Q584.6 301 570.9 301 Q557.1 301 557.1 289 Z" fill="url(#cValL)"/>
    <path d="M584.6 265.5 L612.0 265.5 L612.0 289 Q612.0 301 598.3 301 Q584.6 301 584.6 289 Z" fill="url(#cValD)"/>
  </g>
  <!-- roof -->
  <path d="M95 105 L545 105 L627 168 L627 177 L25 177 L25 168 Z" fill="url(#cRim)"/>
  <path d="M110 112 L530 112 L596 164 L56 164 Z" fill="#8d8f92"/>
  <path d="M119 117 L521 117 L580 160 L72 160 Z" fill="url(#cRoof)"/>
  <rect x="24" y="176" width="604" height="18" rx="2" fill="url(#cCor)"/>
  <!-- sign: steam -->
  <g fill="#4a201a" stroke="#fff" stroke-width="7" stroke-linejoin="round" paint-order="stroke">
    <path d="M314 50 Q296 70 306 90 Q318 108 326 124 Q334 104 324 86 Q312 68 314 50 Z"/>
    <path d="M330 36 Q330 54 338 70 Q346 96 332 120 Q352 100 348 80 Q342 54 330 36 Z"/>
  </g>
  <!-- sign: cup -->
  <ellipse cx="329" cy="207" rx="68" ry="10.5" fill="#4a201a" stroke="#fff" stroke-width="7"/>
  <circle cx="255" cy="157" r="13" fill="#d9d9d9" stroke="#fff" stroke-width="15"/>
  <circle cx="255" cy="157" r="12" fill="none" stroke="#4a201a" stroke-width="7"/>
  <path d="M265 130 L401 130 Q400 172 366 193 L298 193 Q266 172 265 130 Z" fill="#4a201a" stroke="#fff" stroke-width="7" stroke-linejoin="round"/>
  <text x="334" y="173" font-size="30" font-weight="normal" text-anchor="middle" fill="#fff">coffee</text>
</g>
<!-- ART-END -->
</svg>

<div class="abs hd" style="left:73px;top:144.3px;width:213px;height:57px;"></div>
<div class="abs bd" style="left:73px;top:201.2px;width:213px;height:48.5px;"></div>
<div class="abs big" style="left:90.6px;top:147.6px;">Rentrer</div>
<div class="abs txt" style="left:93px;top:200.8px;">to go back,<br>to return home</div>

<div class="abs hd" style="left:196.7px;top:391.4px;width:213.2px;height:57.7px;"></div>
<div class="abs bd" style="left:196.7px;top:449px;width:213.2px;height:89.5px;"></div>
<div class="abs big" style="left:203.6px;top:394px;">Revenir</div>
<div class="abs txt" style="left:211px;top:455px;">one of the speakers<br>is where the other<br>will come back</div>

<div class="abs hd" style="left:189px;top:695.8px;width:257px;height:57px;"></div>
<div class="abs bd" style="left:189px;top:752.7px;width:257px;height:92.6px;"></div>
<div class="abs big" style="left:197px;top:696.3px;">Retourner</div>
<div class="abs txt" style="left:198px;top:757.9px;">None of the speakers are<br>at the place they are<br>talking about</div>

<div class="abs btx" style="left:296px;top:74.6px;">il est tard,<br>je rentre<br>chez moi</div>
<div class="abs btx" style="left:33px;top:270.8px;">Tu reviens<br>à quelle<br>heure ?</div>
<div class="abs btx" style="left:202px;top:597px;">Nous retournerons<br>au restaurant<br>c’était trop bon !</div>

<div id="url" class="abs">www.frenchspanishonline.com</div>
<div id="title" class="abs">
<span class="abs tw" style="left:2.2px;"><span class="abs cap">R</span><span class="abs low" style="left:26.7px;">entrer</span></span>
<span class="abs hy" style="left:168.9px;">-</span>
<span class="abs tw" style="left:200.4px;"><span class="abs cap">R</span><span class="abs low" style="left:26.7px;">evenir</span></span>
<span class="abs hy" style="left:370.3px;">-</span>
<span class="abs tw" style="left:401.6px;"><span class="abs cap">R</span><span class="abs low" style="left:26.7px;letter-spacing:11px;">etourner</span></span>
</div>
</body>
</html>
